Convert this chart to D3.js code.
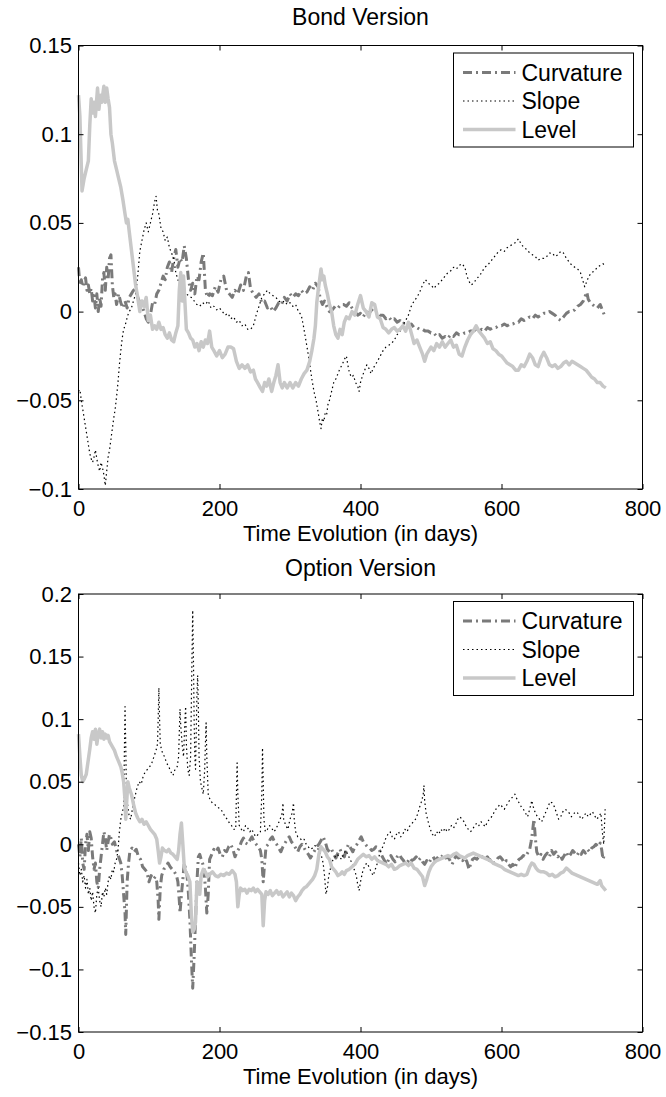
<!DOCTYPE html>
<html>
<head>
<meta charset="utf-8">
<script src="https://cdn.jsdelivr.net/npm/d3@7"></script>
<style>
  body { margin: 0; background: #fff; }
  text { font-family: "Liberation Sans", Arial, Helvetica, sans-serif; fill: #000; }
</style>
</head>
<body>
<svg id="chart" width="666" height="1097"></svg>
<script>
// ---- data: [day, value] ----
const bondLevel = [[0,0.122],[2,0.11],[5,0.068],[8,0.075],[11,0.08],[14,0.085],[16,0.105],[18,0.12],[20,0.112],[22,0.118],[24,0.11],[27,0.126],[29,0.114],[31,0.122],[33,0.118],[36,0.127],[38,0.118],[40,0.126],[42,0.12],[44,0.115],[46,0.1],[48,0.095],[51,0.085],[54,0.08],[57,0.075],[60,0.07],[63,0.063],[66,0.055],[68,0.05],[70,0.052],[72,0.045],[75,0.035],[78,0.025],[81,0.015],[84,0.008],[87,0.0],[90,0.006],[93,0.003],[96,0.008],[99,-0.005],[102,-0.002],[105,-0.01],[108,-0.008],[111,-0.01],[114,-0.006],[117,-0.01],[120,-0.009],[123,-0.013],[126,-0.015],[129,-0.012],[132,-0.016],[135,-0.017],[138,-0.012],[141,-0.008],[143,0.012],[145,0.022],[147,0.006],[149,0.02],[151,0.005],[153,-0.01],[156,-0.012],[159,-0.015],[162,-0.016],[165,-0.02],[168,-0.018],[171,-0.022],[174,-0.017],[177,-0.02],[180,-0.016],[183,-0.018],[186,-0.011],[189,-0.02],[192,-0.022],[196,-0.025],[200,-0.022],[204,-0.026],[208,-0.024],[212,-0.02],[216,-0.02],[220,-0.021],[224,-0.028],[228,-0.032],[232,-0.03],[236,-0.032],[240,-0.03],[244,-0.034],[248,-0.033],[251,-0.038],[254,-0.04],[258,-0.043],[261,-0.045],[264,-0.04],[267,-0.042],[270,-0.038],[274,-0.045],[277,-0.04],[280,-0.036],[283,-0.03],[286,-0.04],[289,-0.043],[292,-0.04],[296,-0.043],[300,-0.04],[304,-0.043],[308,-0.04],[312,-0.042],[316,-0.038],[320,-0.035],[324,-0.033],[328,-0.028],[331,-0.022],[334,-0.015],[336,-0.008],[338,0.005],[340,0.012],[342,0.018],[344,0.024],[346,0.018],[348,0.02],[350,0.015],[353,0.01],[356,0.004],[359,0.0],[362,-0.008],[365,-0.013],[368,-0.015],[371,-0.01],[374,-0.013],[377,-0.006],[380,-0.003],[384,-0.004],[388,0.0],[392,-0.002],[396,0.004],[400,0.009],[404,0.002],[408,0.0],[412,-0.003],[416,0.005],[420,0.004],[424,-0.003],[428,-0.004],[432,-0.009],[436,-0.01],[440,-0.012],[444,-0.01],[448,-0.009],[452,-0.011],[456,-0.01],[460,-0.008],[464,-0.011],[468,-0.006],[472,-0.012],[476,-0.018],[480,-0.016],[484,-0.02],[488,-0.024],[491,-0.028],[494,-0.024],[497,-0.022],[500,-0.02],[504,-0.022],[508,-0.018],[512,-0.02],[516,-0.017],[520,-0.02],[524,-0.018],[528,-0.016],[532,-0.02],[536,-0.019],[540,-0.024],[544,-0.025],[548,-0.02],[552,-0.016],[556,-0.013],[560,-0.011],[564,-0.008],[568,-0.011],[572,-0.013],[576,-0.015],[580,-0.018],[584,-0.017],[588,-0.021],[592,-0.022],[596,-0.024],[600,-0.025],[604,-0.027],[608,-0.029],[612,-0.03],[616,-0.031],[620,-0.033],[624,-0.033],[628,-0.03],[632,-0.031],[636,-0.028],[640,-0.024],[644,-0.026],[648,-0.03],[652,-0.031],[656,-0.026],[660,-0.023],[664,-0.026],[668,-0.03],[672,-0.031],[676,-0.03],[680,-0.032],[684,-0.031],[688,-0.029],[692,-0.028],[696,-0.03],[700,-0.028],[704,-0.029],[708,-0.03],[712,-0.031],[716,-0.032],[720,-0.033],[724,-0.035],[728,-0.037],[732,-0.038],[736,-0.04],[740,-0.04],[744,-0.042],[748,-0.043]];

const bondCurv = [[0,0.025],[2,0.015],[4,0.018],[6,0.014],[8,0.017],[10,0.019],[12,0.012],[14,0.015],[16,0.01],[18,0.013],[20,0.006],[22,0.009],[24,0.002],[26,0.01],[28,0.0],[30,0.008],[32,0.003],[34,0.018],[36,0.022],[38,0.012],[40,0.025],[42,0.018],[44,0.03],[46,0.032],[48,0.015],[50,0.008],[52,0.01],[54,0.004],[57,0.01],[60,0.005],[63,0.002],[66,0.006],[69,0.002],[72,0.008],[75,0.01],[78,0.012],[81,0.013],[84,0.008],[87,0.005],[90,0.003],[93,0.0],[96,-0.004],[99,-0.006],[102,-0.002],[105,0.005],[108,0.004],[111,0.01],[114,0.012],[117,0.016],[120,0.02],[123,0.018],[126,0.025],[129,0.028],[132,0.022],[135,0.03],[138,0.035],[141,0.025],[144,0.03],[147,0.028],[150,0.037],[153,0.03],[156,0.018],[159,0.012],[162,0.016],[165,0.01],[168,0.02],[171,0.018],[174,0.028],[177,0.033],[180,0.012],[183,0.008],[186,0.01],[190,0.009],[194,0.014],[198,0.011],[202,0.018],[206,0.02],[210,0.012],[214,0.01],[218,0.008],[222,0.012],[226,0.01],[230,0.015],[234,0.012],[238,0.02],[241,0.022],[244,0.013],[248,0.01],[252,0.008],[256,0.01],[260,0.005],[264,0.006],[268,0.002],[272,0.003],[276,0.0],[280,0.002],[284,0.005],[288,0.004],[292,0.008],[296,0.006],[300,0.01],[304,0.008],[308,0.01],[312,0.009],[316,0.012],[320,0.01],[324,0.011],[328,0.014],[332,0.012],[336,0.016],[340,0.014],[343,0.007],[346,0.004],[349,0.006],[352,0.003],[356,0.0],[360,0.001],[364,0.003],[368,0.002],[372,0.004],[376,0.004],[380,0.003],[384,0.005],[388,0.002],[392,0.0],[396,-0.002],[400,-0.001],[404,-0.003],[408,0.0],[412,-0.001],[416,0.001],[420,-0.001],[424,0.0],[428,-0.002],[432,-0.002],[436,-0.004],[440,-0.003],[444,-0.005],[448,-0.004],[452,-0.006],[456,-0.005],[460,-0.007],[464,-0.006],[468,-0.008],[472,-0.007],[476,-0.009],[480,-0.009],[484,-0.01],[488,-0.01],[492,-0.011],[496,-0.011],[500,-0.012],[504,-0.012],[508,-0.014],[512,-0.013],[516,-0.015],[520,-0.014],[524,-0.015],[528,-0.013],[532,-0.014],[536,-0.012],[540,-0.013],[544,-0.013],[548,-0.012],[552,-0.012],[556,-0.011],[560,-0.011],[564,-0.01],[568,-0.011],[572,-0.01],[576,-0.011],[580,-0.009],[584,-0.01],[588,-0.009],[592,-0.009],[596,-0.008],[600,-0.008],[604,-0.007],[608,-0.008],[612,-0.007],[616,-0.007],[620,-0.006],[624,-0.006],[628,-0.004],[632,-0.005],[636,-0.004],[640,-0.003],[644,-0.004],[648,-0.002],[652,-0.003],[656,-0.002],[660,-0.001],[664,-0.001],[668,0.0],[672,-0.001],[676,-0.002],[680,-0.004],[684,-0.005],[688,-0.003],[692,-0.001],[696,0.0],[700,0.0],[704,0.001],[708,0.003],[712,0.004],[716,0.006],[719,0.009],[721,0.011],[723,0.007],[726,0.005],[729,0.004],[732,0.003],[736,0.002],[740,0.004],[743,0.001],[746,-0.002]];

const bondSlope = [[0,-0.045],[2,-0.044],[4,-0.05],[6,-0.055],[8,-0.06],[10,-0.065],[12,-0.07],[14,-0.075],[16,-0.08],[18,-0.083],[20,-0.085],[22,-0.082],[24,-0.078],[26,-0.083],[28,-0.087],[30,-0.09],[32,-0.085],[34,-0.088],[36,-0.092],[38,-0.098],[40,-0.09],[42,-0.082],[44,-0.078],[46,-0.072],[48,-0.066],[50,-0.06],[52,-0.055],[54,-0.048],[56,-0.04],[58,-0.03],[60,-0.022],[62,-0.015],[64,-0.01],[66,-0.008],[68,-0.005],[70,-0.002],[72,0.0],[75,0.002],[78,0.006],[81,0.01],[84,0.02],[87,0.034],[90,0.04],[93,0.046],[96,0.05],[99,0.045],[102,0.05],[105,0.055],[108,0.062],[110,0.065],[112,0.057],[114,0.055],[117,0.047],[120,0.045],[123,0.04],[126,0.042],[129,0.036],[132,0.033],[135,0.03],[138,0.022],[141,0.018],[144,0.014],[147,0.012],[150,0.011],[153,0.01],[156,0.009],[160,0.008],[164,0.006],[168,0.004],[172,0.003],[176,0.005],[180,0.004],[184,0.006],[188,0.002],[192,0.003],[196,0.001],[200,0.002],[204,0.0],[208,-0.002],[212,-0.001],[216,-0.004],[220,-0.003],[224,-0.006],[228,-0.005],[232,-0.008],[236,-0.007],[240,-0.01],[244,-0.01],[248,-0.008],[252,-0.002],[256,0.003],[260,0.008],[264,0.01],[268,0.012],[272,0.01],[276,0.009],[280,0.008],[284,0.006],[288,0.005],[292,0.006],[296,0.004],[300,0.005],[304,0.003],[308,0.004],[312,0.0],[316,-0.002],[319,-0.008],[322,-0.015],[325,-0.022],[328,-0.03],[331,-0.038],[334,-0.045],[337,-0.05],[340,-0.057],[342,-0.062],[344,-0.066],[346,-0.06],[348,-0.062],[350,-0.057],[352,-0.058],[354,-0.052],[356,-0.05],[359,-0.045],[362,-0.04],[365,-0.038],[368,-0.035],[371,-0.032],[374,-0.03],[377,-0.027],[380,-0.025],[382,-0.03],[384,-0.034],[387,-0.037],[390,-0.036],[393,-0.04],[396,-0.042],[398,-0.045],[400,-0.04],[403,-0.036],[406,-0.033],[409,-0.03],[412,-0.032],[415,-0.035],[418,-0.032],[421,-0.03],[424,-0.028],[428,-0.025],[432,-0.022],[436,-0.02],[440,-0.019],[444,-0.018],[448,-0.016],[452,-0.013],[456,-0.011],[460,-0.008],[464,-0.005],[468,-0.002],[472,0.003],[476,0.006],[480,0.008],[484,0.011],[488,0.015],[492,0.018],[496,0.016],[500,0.015],[504,0.013],[508,0.015],[512,0.016],[516,0.018],[520,0.02],[524,0.022],[528,0.023],[532,0.025],[536,0.024],[540,0.026],[544,0.027],[548,0.025],[551,0.02],[554,0.017],[557,0.015],[560,0.016],[564,0.018],[568,0.02],[572,0.022],[576,0.025],[580,0.026],[584,0.028],[588,0.03],[592,0.032],[596,0.034],[600,0.035],[604,0.034],[608,0.036],[612,0.037],[616,0.038],[620,0.039],[624,0.041],[628,0.038],[632,0.036],[636,0.035],[640,0.033],[644,0.032],[648,0.031],[652,0.029],[656,0.03],[660,0.03],[664,0.031],[668,0.033],[672,0.033],[676,0.031],[680,0.032],[684,0.034],[688,0.033],[692,0.03],[696,0.028],[700,0.026],[704,0.025],[708,0.024],[712,0.022],[715,0.018],[718,0.014],[721,0.017],[724,0.02],[728,0.022],[732,0.023],[736,0.025],[740,0.026],[744,0.027],[747,0.026]];

const optLevel = [[0,0.088],[2,0.07],[4,0.055],[6,0.05],[8,0.052],[11,0.056],[14,0.068],[16,0.076],[18,0.085],[20,0.09],[22,0.084],[24,0.092],[26,0.08],[28,0.088],[30,0.092],[32,0.085],[34,0.09],[36,0.084],[38,0.088],[40,0.085],[42,0.087],[44,0.082],[46,0.08],[48,0.078],[51,0.075],[54,0.07],[57,0.066],[60,0.062],[62,0.057],[64,0.05],[66,0.035],[67,0.02],[68,0.03],[70,0.05],[72,0.045],[75,0.04],[78,0.032],[81,0.025],[84,0.021],[87,0.018],[90,0.02],[93,0.016],[96,0.018],[99,0.015],[102,0.012],[105,0.01],[108,0.008],[111,0.004],[113,-0.005],[115,-0.015],[117,-0.01],[119,-0.003],[122,-0.005],[125,-0.006],[128,-0.004],[131,-0.007],[134,-0.008],[137,-0.01],[140,-0.012],[142,-0.005],[144,0.008],[146,0.017],[148,0.0],[150,-0.018],[152,-0.022],[155,-0.025],[158,-0.03],[160,-0.055],[162,-0.07],[164,-0.068],[166,-0.062],[168,-0.03],[170,-0.035],[172,-0.04],[174,-0.025],[177,-0.02],[180,-0.022],[183,-0.026],[186,-0.024],[190,-0.022],[194,-0.025],[198,-0.026],[202,-0.024],[206,-0.025],[210,-0.023],[214,-0.024],[218,-0.021],[222,-0.024],[224,-0.03],[226,-0.05],[228,-0.04],[230,-0.035],[233,-0.037],[236,-0.036],[239,-0.039],[242,-0.036],[245,-0.037],[248,-0.035],[251,-0.038],[254,-0.036],[257,-0.038],[260,-0.04],[262,-0.065],[264,-0.045],[266,-0.038],[269,-0.04],[272,-0.037],[275,-0.041],[278,-0.039],[281,-0.037],[284,-0.04],[287,-0.038],[290,-0.042],[293,-0.04],[296,-0.038],[299,-0.042],[302,-0.039],[305,-0.041],[308,-0.045],[311,-0.042],[314,-0.04],[317,-0.037],[320,-0.035],[323,-0.034],[326,-0.032],[329,-0.03],[332,-0.028],[335,-0.025],[338,-0.02],[341,-0.008],[344,-0.002],[347,-0.004],[350,-0.006],[353,-0.01],[356,-0.012],[359,-0.018],[362,-0.02],[365,-0.022],[368,-0.025],[371,-0.024],[374,-0.022],[377,-0.024],[380,-0.021],[384,-0.02],[388,-0.018],[392,-0.016],[396,-0.012],[400,-0.01],[404,-0.008],[408,-0.01],[412,-0.009],[416,-0.012],[420,-0.01],[424,-0.013],[428,-0.014],[432,-0.015],[436,-0.016],[440,-0.018],[444,-0.016],[448,-0.02],[452,-0.019],[456,-0.017],[460,-0.016],[464,-0.015],[468,-0.017],[472,-0.015],[476,-0.019],[480,-0.02],[484,-0.023],[488,-0.026],[491,-0.033],[494,-0.028],[497,-0.022],[500,-0.018],[504,-0.015],[508,-0.013],[512,-0.012],[516,-0.011],[520,-0.01],[524,-0.009],[528,-0.01],[532,-0.008],[536,-0.007],[540,-0.009],[544,-0.01],[548,-0.011],[552,-0.009],[556,-0.008],[560,-0.007],[564,-0.008],[568,-0.009],[572,-0.01],[576,-0.011],[580,-0.012],[584,-0.013],[588,-0.015],[592,-0.016],[596,-0.017],[600,-0.018],[604,-0.02],[608,-0.021],[612,-0.022],[616,-0.023],[620,-0.024],[624,-0.025],[628,-0.024],[632,-0.025],[636,-0.024],[640,-0.018],[643,-0.015],[646,-0.016],[649,-0.019],[652,-0.021],[656,-0.022],[660,-0.022],[664,-0.023],[668,-0.025],[672,-0.024],[676,-0.026],[680,-0.025],[684,-0.023],[688,-0.022],[692,-0.019],[696,-0.021],[700,-0.023],[704,-0.024],[708,-0.025],[712,-0.026],[716,-0.027],[720,-0.028],[724,-0.029],[728,-0.03],[732,-0.031],[736,-0.032],[740,-0.029],[742,-0.033],[745,-0.035],[748,-0.037]];

const optCurv = [[0,0.0],[2,-0.01],[4,0.005],[6,-0.015],[8,-0.02],[10,0.0],[12,0.008],[14,-0.005],[16,0.01],[18,0.005],[20,-0.01],[22,-0.02],[24,-0.015],[26,-0.03],[28,-0.035],[30,-0.02],[32,-0.01],[34,0.0],[36,0.01],[38,0.005],[40,-0.005],[42,0.002],[44,0.008],[46,0.005],[48,0.0],[51,0.002],[54,-0.005],[57,-0.01],[60,-0.015],[62,-0.025],[64,-0.04],[66,-0.055],[67,-0.072],[69,-0.03],[71,-0.015],[73,-0.005],[76,-0.003],[79,-0.006],[82,-0.004],[85,-0.01],[88,-0.012],[91,-0.018],[94,-0.02],[97,-0.022],[100,-0.03],[103,-0.025],[106,-0.028],[109,-0.026],[111,-0.03],[113,-0.045],[114,-0.06],[116,-0.035],[118,-0.025],[121,-0.02],[124,-0.018],[127,-0.015],[130,-0.018],[133,-0.02],[136,-0.022],[139,-0.025],[141,-0.03],[143,-0.045],[144,-0.055],[146,-0.04],[148,-0.028],[150,-0.015],[152,-0.02],[154,-0.025],[156,-0.04],[158,-0.06],[160,-0.09],[162,-0.115],[164,-0.09],[166,-0.06],[168,-0.03],[170,-0.01],[172,-0.008],[174,-0.012],[176,-0.015],[178,-0.02],[180,-0.035],[182,-0.055],[184,-0.04],[186,-0.012],[189,-0.008],[192,-0.004],[195,-0.006],[198,-0.003],[201,-0.008],[204,-0.01],[207,-0.005],[210,-0.006],[213,-0.002],[216,0.0],[219,-0.004],[222,-0.01],[225,-0.006],[228,-0.003],[231,0.002],[234,0.005],[237,0.001],[240,0.0],[243,0.003],[246,0.006],[249,0.002],[252,0.0],[255,-0.002],[258,-0.005],[260,-0.012],[262,-0.03],[264,-0.015],[266,-0.002],[269,0.0],[272,0.004],[275,0.006],[278,0.002],[281,0.0],[284,-0.003],[287,-0.006],[290,-0.002],[293,0.001],[296,0.004],[299,0.006],[302,0.002],[305,0.0],[308,-0.003],[311,-0.006],[314,-0.002],[317,0.0],[320,-0.003],[323,-0.006],[326,-0.008],[329,-0.011],[332,-0.008],[335,-0.005],[338,-0.002],[341,0.0],[344,0.003],[347,0.006],[350,0.002],[353,-0.004],[356,-0.006],[359,-0.004],[362,-0.008],[365,-0.011],[368,-0.007],[371,-0.004],[374,-0.008],[377,-0.01],[380,-0.004],[383,0.0],[386,-0.003],[389,-0.006],[392,-0.002],[395,0.0],[398,0.003],[401,0.006],[404,0.002],[407,0.0],[410,-0.002],[413,-0.003],[416,-0.005],[419,-0.004],[422,-0.002],[425,-0.003],[428,-0.006],[431,-0.01],[434,-0.013],[437,-0.016],[440,-0.012],[443,-0.009],[446,-0.012],[449,-0.014],[452,-0.01],[455,-0.008],[458,-0.011],[461,-0.013],[464,-0.016],[467,-0.014],[470,-0.011],[473,-0.013],[476,-0.012],[479,-0.01],[482,-0.013],[485,-0.011],[488,-0.014],[491,-0.016],[494,-0.013],[497,-0.015],[500,-0.012],[503,-0.01],[506,-0.013],[509,-0.011],[512,-0.009],[515,-0.01],[518,-0.008],[521,-0.011],[524,-0.01],[527,-0.013],[530,-0.016],[533,-0.012],[536,-0.009],[539,-0.011],[542,-0.01],[545,-0.013],[548,-0.011],[551,-0.014],[554,-0.02],[556,-0.016],[559,-0.012],[562,-0.011],[565,-0.012],[568,-0.01],[571,-0.009],[574,-0.011],[577,-0.012],[580,-0.01],[583,-0.013],[586,-0.012],[589,-0.015],[592,-0.014],[595,-0.011],[598,-0.01],[601,-0.012],[604,-0.015],[607,-0.013],[610,-0.016],[613,-0.018],[616,-0.016],[619,-0.019],[622,-0.014],[625,-0.012],[628,-0.011],[631,-0.009],[634,-0.01],[637,-0.007],[640,-0.004],[642,0.002],[644,0.01],[646,0.02],[648,0.005],[650,-0.006],[653,-0.01],[656,-0.008],[659,-0.012],[662,-0.009],[665,-0.007],[668,-0.01],[671,-0.005],[674,-0.008],[677,-0.006],[680,-0.01],[683,-0.008],[686,-0.012],[689,-0.009],[692,-0.006],[695,-0.01],[698,-0.008],[701,-0.005],[704,-0.007],[707,-0.009],[710,-0.006],[713,-0.008],[716,-0.005],[719,-0.007],[722,-0.004],[725,-0.006],[728,-0.003],[731,-0.002],[734,0.0],[737,-0.002],[740,0.001],[742,-0.004],[744,-0.012],[746,-0.008]];

const optSlope = [[0,-0.015],[2,-0.025],[4,-0.02],[6,-0.03],[8,-0.025],[10,-0.035],[12,-0.028],[14,-0.04],[16,-0.035],[18,-0.045],[20,-0.038],[22,-0.05],[24,-0.055],[26,-0.04],[28,-0.035],[30,-0.045],[32,-0.05],[34,-0.038],[36,-0.042],[38,-0.035],[40,-0.04],[42,-0.03],[44,-0.025],[46,-0.028],[48,-0.02],[50,-0.022],[52,-0.015],[54,-0.012],[56,-0.005],[58,0.01],[60,0.02],[62,0.025],[64,0.03],[65,0.07],[66,0.11],[67,0.08],[68,0.04],[70,0.03],[72,0.022],[74,0.02],[77,0.03],[80,0.038],[83,0.045],[86,0.05],[89,0.048],[92,0.055],[95,0.058],[98,0.06],[101,0.062],[104,0.065],[107,0.07],[110,0.075],[112,0.08],[113,0.1],[114,0.125],[115,0.1],[116,0.08],[118,0.075],[120,0.072],[122,0.07],[125,0.065],[128,0.062],[131,0.058],[134,0.055],[137,0.06],[140,0.062],[142,0.07],[143,0.09],[144,0.108],[145,0.095],[147,0.08],[149,0.07],[151,0.1],[152,0.11],[153,0.08],[155,0.06],[157,0.055],[159,0.07],[160,0.11],[161,0.15],[162,0.187],[163,0.15],[164,0.1],[165,0.07],[166,0.06],[167,0.09],[168,0.12],[169,0.135],[170,0.11],[171,0.07],[173,0.05],[175,0.045],[177,0.04],[179,0.06],[180,0.08],[181,0.097],[182,0.07],[184,0.04],[187,0.035],[190,0.033],[193,0.032],[196,0.03],[199,0.029],[202,0.028],[205,0.025],[208,0.022],[211,0.02],[214,0.017],[217,0.015],[220,0.012],[223,0.012],[224,0.04],[225,0.065],[226,0.04],[228,0.015],[231,0.012],[234,0.01],[237,0.015],[240,0.013],[243,0.01],[246,0.012],[249,0.008],[252,0.006],[255,0.008],[258,0.01],[260,0.04],[261,0.077],[262,0.05],[263,0.02],[265,0.01],[268,0.012],[271,0.015],[274,0.013],[277,0.01],[280,0.012],[283,0.016],[286,0.02],[289,0.025],[290,0.033],[291,0.02],[294,0.015],[297,0.012],[300,0.02],[303,0.025],[305,0.033],[306,0.02],[308,0.01],[311,0.006],[314,0.005],[317,0.003],[320,0.004],[323,0.0],[326,-0.002],[329,-0.004],[332,-0.003],[335,-0.001],[338,-0.002],[341,-0.005],[344,-0.008],[347,-0.015],[349,-0.025],[351,-0.04],[353,-0.035],[355,-0.025],[358,-0.018],[361,-0.012],[364,-0.01],[367,-0.008],[370,-0.01],[373,-0.012],[376,-0.008],[379,-0.005],[382,-0.008],[385,-0.012],[388,-0.015],[391,-0.02],[394,-0.025],[396,-0.032],[398,-0.037],[400,-0.03],[403,-0.022],[406,-0.017],[409,-0.015],[412,-0.018],[415,-0.022],[418,-0.025],[421,-0.02],[424,-0.015],[427,-0.008],[430,-0.004],[433,0.0],[436,0.005],[439,0.008],[442,0.01],[445,0.006],[448,0.004],[451,0.008],[454,0.01],[457,0.006],[460,0.008],[463,0.012],[466,0.01],[469,0.014],[472,0.016],[475,0.018],[478,0.02],[481,0.024],[484,0.03],[487,0.035],[489,0.04],[490,0.047],[491,0.035],[493,0.025],[496,0.018],[499,0.012],[502,0.008],[505,0.006],[508,0.01],[511,0.008],[514,0.012],[517,0.01],[520,0.013],[523,0.01],[526,0.012],[529,0.015],[532,0.013],[535,0.016],[538,0.02],[541,0.022],[544,0.02],[547,0.018],[550,0.014],[553,0.012],[556,0.01],[559,0.012],[562,0.015],[565,0.017],[568,0.015],[571,0.018],[574,0.016],[577,0.014],[580,0.018],[583,0.02],[586,0.022],[589,0.025],[592,0.028],[595,0.03],[598,0.032],[601,0.03],[604,0.028],[607,0.031],[610,0.034],[613,0.036],[616,0.038],[619,0.04],[622,0.036],[625,0.033],[628,0.03],[631,0.028],[634,0.025],[637,0.022],[640,0.028],[643,0.035],[645,0.03],[648,0.025],[651,0.022],[654,0.02],[657,0.018],[660,0.022],[663,0.026],[666,0.03],[669,0.034],[672,0.033],[675,0.03],[678,0.025],[681,0.02],[684,0.022],[687,0.026],[690,0.028],[693,0.027],[696,0.025],[699,0.022],[702,0.024],[705,0.026],[708,0.025],[711,0.022],[714,0.02],[717,0.023],[720,0.025],[723,0.022],[726,0.024],[729,0.026],[732,0.023],[735,0.02],[738,0.022],[741,0.025],[743,0.01],[745,0.0],[747,0.028]];

const xTicks = [0, 200, 400, 600, 800];
const bondYTicks = [0.15, 0.1, 0.05, 0, -0.05, -0.1];
const bondYLabels = ["0.15", "0.1", "0.05", "0", "\u22120.05", "\u22120.1"];
const optYTicks = [0.2, 0.15, 0.1, 0.05, 0, -0.05, -0.1, -0.15];
const optYLabels = ["0.2", "0.15", "0.1", "0.05", "0", "\u22120.05", "\u22120.1", "\u22120.15"];
const legendNames = ["Curvature", "Slope", "Level"];

// ---- drawing ----
const svg = d3.select("#chart");
const left = 78.5, right = 642.5;
const fsTick = 22, fsLabel = 22, fsTitle = 23, fsLegend = 23;
const styles = [
  { color: "#7a7a7a", width: 3, dash: "9,4,2,4" },    // curvature
  { color: "#000000", width: 1.2, dash: "1.5,3" },    // slope
  { color: "#c8c8c8", width: 3.5, dash: null }        // level
];

const x = d3.scaleLinear().domain([0, 800]).range([left, right]);

function panel(p) {
  const y = d3.scaleLinear().domain([p.yTicks[p.yTicks.length - 1], p.yTicks[0]]).range([p.bottom, p.top]);
  const g = svg.append("g");

  g.append("text")
    .attr("x", (left + right) / 2).attr("y", p.titleY)
    .attr("text-anchor", "middle").attr("font-size", fsTitle)
    .text(p.title);

  const line = d3.line().x(d => x(d[0])).y(d => y(d[1]));
  p.series.forEach((s, i) => {
    g.append("path").datum(s)
      .attr("fill", "none")
      .attr("stroke", styles[i].color)
      .attr("stroke-width", styles[i].width)
      .attr("stroke-dasharray", styles[i].dash)
      .attr("stroke-linejoin", "round")
      .attr("d", line);
  });

  const fmtY = d => p.yLabels[p.yTicks.indexOf(d)];

  const yl = g.append("g").attr("transform", `translate(${left},0)`)
    .call(d3.axisLeft(y).tickValues(p.yTicks).tickFormat(fmtY).tickSize(-5).tickPadding(6.5));
  const yr = g.append("g").attr("transform", `translate(${right},0)`)
    .call(d3.axisRight(y).tickValues(p.yTicks).tickFormat("").tickSize(-5));
  const xb = g.append("g").attr("transform", `translate(0,${p.bottom})`)
    .call(d3.axisBottom(x).tickValues(xTicks).tickFormat(d3.format("d")).tickSize(-5).tickPadding(11.5));
  const xt = g.append("g").attr("transform", `translate(0,${p.top})`)
    .call(d3.axisTop(x).tickValues(xTicks).tickFormat("").tickSize(-5));
  [yl, yr, xb, xt].forEach(a => {
    a.select(".domain").remove();
    a.selectAll("text").attr("font-size", fsTick).attr("font-family", null);
    a.selectAll("line").attr("stroke", "#000");
  });

  g.append("rect")
    .attr("x", left).attr("y", p.top)
    .attr("width", right - left).attr("height", p.bottom - p.top)
    .attr("fill", "none").attr("stroke", "#000").attr("stroke-width", 1);

  g.append("text")
    .attr("x", (left + right) / 2).attr("y", p.bottom + 52)
    .attr("text-anchor", "middle").attr("font-size", fsLabel)
    .text("Time Evolution (in days)");

  // legend
  const lg = g.append("g").attr("transform", `translate(453.5,${p.top + 7.5})`);
  lg.append("rect").attr("width", 180).attr("height", 94)
    .attr("fill", "#fff").attr("stroke", "#000").attr("stroke-width", 1);
  legendNames.forEach((name, i) => {
    const ry = 19.5 + i * 28.5;
    lg.append("line").attr("x1", 9.5).attr("x2", 62).attr("y1", ry).attr("y2", ry)
      .attr("stroke", styles[i].color).attr("stroke-width", styles[i].width)
      .attr("stroke-dasharray", styles[i].dash);
    lg.append("text").attr("x", 68).attr("y", ry).attr("dy", "0.36em")
      .attr("font-size", fsLegend).text(name);
  });
}

panel({ title: "Bond Version", titleY: 25, top: 45.5, bottom: 489,
        yTicks: bondYTicks, yLabels: bondYLabels, series: [bondCurv, bondSlope, bondLevel] });
panel({ title: "Option Version", titleY: 576, top: 594, bottom: 1032,
        yTicks: optYTicks, yLabels: optYLabels, series: [optCurv, optSlope, optLevel] });
</script>
</body>
</html>
